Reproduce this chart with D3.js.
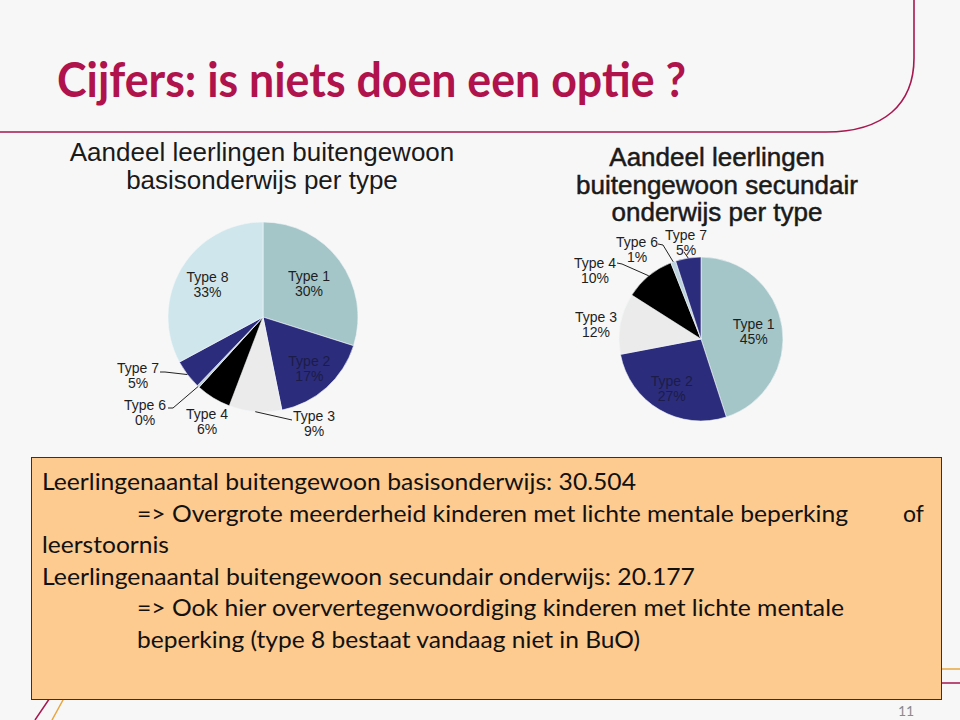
<!DOCTYPE html>
<html>
<head>
<meta charset="utf-8">
<script src="https://cdn.jsdelivr.net/npm/d3@7"></script>
<style>
  body { margin: 0; background: #f7f7f7; }
  svg { display: block; }
</style>
</head>
<body>
<div id="slide"></div>
<script>
// pie data: basisonderwijs (left) and secundair onderwijs (right)
var basisTypes = ["Type 1", "Type 2", "Type 3", "Type 4", "Type 6", "Type 7", "Type 8"];
var basisValues = [30, 17, 9, 6, 0.4, 5, 33];
var basisLabels = ["30%", "17%", "9%", "6%", "0%", "5%", "33%"];

var secTypes = ["Type 1", "Type 2", "Type 3", "Type 4", "Type 6", "Type 7"];
var secValues = [45, 27, 12, 10, 1, 5];
var secLabels = ["45%", "27%", "12%", "10%", "1%", "5%"];

var slideTitle = "Cijfers: is niets doen een optie ?";
var basisTitle = ["Aandeel leerlingen buitengewoon", "basisonderwijs per type"];
var secTitle = ["Aandeel leerlingen", "buitengewoon secundair", "onderwijs per type"];

var boxLines = [
    "Leerlingenaantal buitengewoon basisonderwijs: 30.504",
    "=> Overgrote meerderheid kinderen met lichte mentale beperking",
    "leerstoornis",
    "Leerlingenaantal buitengewoon secundair onderwijs: 20.177",
    "=> Ook hier oververtegenwoordiging kinderen met lichte mentale",
    "beperking (type 8 bestaat vandaag niet in BuO)"
];
var pageNumber = "11";

var width = 960,
    height = 720;

var svg = d3.select("#slide")
    .append("svg")
    .attr("width", width)
    .attr("height", height);

svg.append("rect")
    .attr("width", width)
    .attr("height", height)
    .attr("fill", "#f7f7f7");

// slide frame decoration (top right curve + title underline)
var crimson = "#a8174e";
svg.append("path")
    .attr("d", "M914,0 L914,58 C914,104 884,132 826,132 L0,132")
    .attr("fill", "none")
    .attr("stroke", crimson)
    .attr("stroke-width", 1.6);

// title
svg.append("text")
    .attr("x", 57)
    .attr("y", 97)
    .attr("textLength", 629)
    .attr("lengthAdjust", "spacingAndGlyphs")
    .style("font-family", "Lato, 'Open Sans', sans-serif")
    .style("font-weight", "bold")
    .style("font-size", "48px")
    .attr("fill", "#b0124b")
    .text(slideTitle);

// colours per type, same in both charts
var color = d3.scaleOrdinal()
    .domain(["Type 1", "Type 2", "Type 3", "Type 4", "Type 6", "Type 7", "Type 8"])
    .range(["#a4c6c9", "#2b2c7c", "#ebebeb", "#000000", "#bcd3de", "#2b2c7c", "#cfe7ec"]);

// label layout: r = inside at fraction of radius, otherwise offset from centre + leader
var basisLayout = {
    "Type 1": { r: 0.6 },
    "Type 2": { r: 0.73 },
    "Type 3": { dx: 51, dy: 99, leader: [[29, 103]] },
    "Type 4": { dx: -56, dy: 97 },
    "Type 6": { dx: -118, dy: 88, leader: [[-90, 91], [-95, 91]] },
    "Type 7": { dx: -125, dy: 51, leader: [[-98, 55], [-103, 55]] },
    "Type 8": { r: 0.68 }
};
var secLayout = {
    "Type 1": { r: 0.65 },
    "Type 2": { r: 0.7 },
    "Type 3": { dx: -105, dy: -22 },
    "Type 4": { dx: -106, dy: -76, leader: [[-79, -75], [-84, -76]] },
    "Type 6": { dx: -64, dy: -97, leader: [[-38, -94], [-43, -95]] },
    "Type 7": { dx: -15, dy: -104, leader: [[-17, -87]] }
};

function drawPie(cx, cy, radius, types, values, labels, layout) {
    var g = svg.append("g")
        .attr("transform", "translate(" + cx + "," + cy + ")");

    var pie = d3.pie()
        .sort(null) // keep type order, clockwise from 12 o'clock
        .value(function (d) { return d.value; });
    var data_ready = pie(types.map(function (t, i) {
        return { key: t, value: values[i], label: labels[i] };
    }));

    var arc = d3.arc()
        .innerRadius(0)
        .outerRadius(radius);

    g.selectAll("slices")
        .data(data_ready)
        .enter()
        .append("path")
        .attr("d", arc)
        .attr("fill", function (d) { return color(d.data.key); })
        .attr("stroke", "#f4f7f8")
        .attr("stroke-width", 0.6);

    // leader lines from the slice edge to the label
    g.selectAll("leaders")
        .data(data_ready.filter(function (d) { return layout[d.data.key].leader; }))
        .enter()
        .append("polyline")
        .attr("fill", "none")
        .attr("stroke", "#222")
        .attr("stroke-width", 1)
        .attr("points", function (d) {
            var mid = (d.startAngle + d.endAngle) / 2;
            var start = [Math.sin(mid) * radius, -Math.cos(mid) * radius];
            return [start].concat(layout[d.data.key].leader);
        });

    var lab = g.selectAll("labels")
        .data(data_ready)
        .enter()
        .append("text")
        .attr("text-anchor", "middle")
        .style("font-family", "'Liberation Sans', Arial, sans-serif")
        .style("font-size", "14px")
        .attr("fill", function (d) { return d.data.key == "Type 2" ? "#1c1c48" : "#1e1e1e"; })
        .attr("transform", function (d) {
            var l = layout[d.data.key];
            var pos;
            if (l.r) {
                var mid = (d.startAngle + d.endAngle) / 2;
                pos = [Math.sin(mid) * radius * l.r, -Math.cos(mid) * radius * l.r - 7];
            } else {
                pos = [l.dx, l.dy];
            }
            return "translate(" + pos + ")";
        });
    lab.append("tspan")
        .attr("x", 0)
        .attr("dy", "0.35em")
        .text(function (d) { return d.data.key; });
    lab.append("tspan")
        .attr("x", 0)
        .attr("dy", 15)
        .text(function (d) { return d.data.label; });
}

function drawTitle(cx, y0, lines, weight) {
    svg.selectAll(null)
        .data(lines)
        .enter()
        .append("text")
        .attr("x", cx)
        .attr("y", function (d, i) { return y0 + i * 27.5; })
        .attr("text-anchor", "middle")
        .style("font-family", "'Liberation Sans', Arial, sans-serif")
        .style("font-size", "26px")
        .attr("fill", "#1a1a1a")
        .attr("stroke", "#1a1a1a")
        .attr("stroke-width", weight)
        .text(function (d) { return d; });
}

drawTitle(262, 161, basisTitle, 0);
drawTitle(717, 166, secTitle, 0.5);

drawPie(263, 317, 95, basisTypes, basisValues, basisLabels, basisLayout);
drawPie(701, 339, 82, secTypes, secValues, secLabels, secLayout);

// decorative lines running behind the text box
svg.append("path")
    .attr("d", "M960,669 L80,669 L52,720")
    .attr("fill", "none")
    .attr("stroke", "#e8a640")
    .attr("stroke-width", 1.5);
svg.append("path")
    .attr("d", "M960,683 L60,683 L35,720")
    .attr("fill", "none")
    .attr("stroke", crimson)
    .attr("stroke-width", 1.5);

// text box
svg.append("rect")
    .attr("x", 31.5)
    .attr("y", 457.5)
    .attr("width", 910)
    .attr("height", 242)
    .attr("fill", "#fdca8f")
    .attr("stroke", "#333")
    .attr("stroke-width", 1);

var lineX = [42, 137, 42, 42, 137, 137];
var lineW = [594, 711, 127, 653, 707, 503];
svg.selectAll("boxlines")
    .data(boxLines)
    .enter()
    .append("text")
    .attr("x", function (d, i) { return lineX[i]; })
    .attr("y", function (d, i) { return 490 + i * 31.5; })
    .attr("textLength", function (d, i) { return lineW[i]; })
    .attr("lengthAdjust", "spacingAndGlyphs")
    .style("font-family", "Lato, 'Open Sans', sans-serif")
    .style("font-size", "23px")
    .attr("fill", "#111")
    .text(function (d) { return d; });

// justified leftover word of line 2
svg.append("text")
    .attr("x", 903)
    .attr("y", 521.5)
    .style("font-family", "Lato, 'Open Sans', sans-serif")
    .style("font-size", "23px")
    .attr("fill", "#111")
    .text("of");

svg.append("text")
    .attr("x", 906)
    .attr("y", 716)
    .attr("text-anchor", "middle")
    .style("font-family", "Lato, 'Open Sans', sans-serif")
    .style("font-size", "14px")
    .attr("fill", "#8a8a8a")
    .text(pageNumber);
</script>
</body>
</html>
